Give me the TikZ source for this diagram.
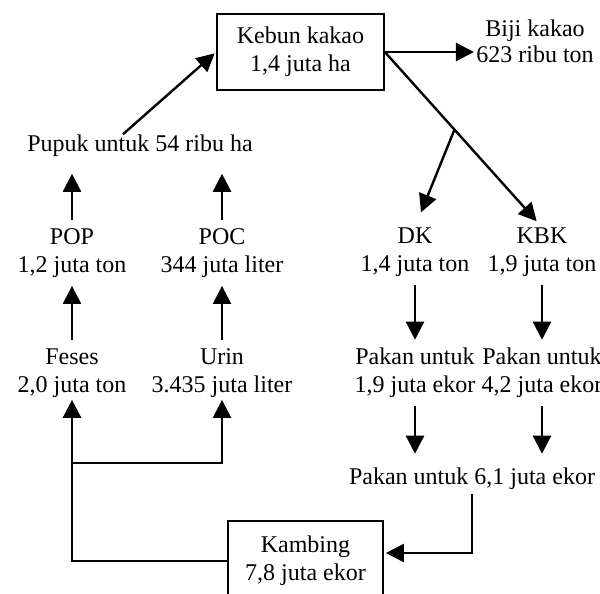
\documentclass[tikz,border=0pt]{standalone}
\usepackage{fontspec}
\setmainfont{Liberation Serif}
\usetikzlibrary{arrows.meta}
\tikzset{
  lbl/.style={align=center,inner sep=0pt,font=\fontsize{12}{14}\selectfont},
  kotak/.style={lbl,draw,line width=0.85pt,minimum width=83.5pt,minimum height=38pt},
  arr/.style={line width=1.2pt,shorten <=4pt,shorten >=4pt,-{Triangle[length=9pt,width=9pt]}},
  siku/.style={arr,shorten <=0pt,shorten >=1pt},
}
\begin{document}
\begin{tikzpicture}[x=0.5pt,y=-0.5pt]
  \useasboundingbox (0,0) rectangle (600,594);
  \node[kotak] (kebun) at (300.5,52) {Kebun kakao\\1,4 juta ha};
  \node[lbl,font=\fontsize{12}{12.8}\selectfont] (biji) at (535,41) {Biji kakao\\623 ribu ton};
  \node[lbl] (pupuk) at (140,145.5) {Pupuk untuk 54 ribu ha};
  \node[lbl] (pop) at (72,253) {POP\\1,2 juta ton};
  \node[lbl] (poc) at (222,253) {POC\\344 juta liter};
  \node[lbl] (feses) at (72,373) {Feses\\2,0 juta ton};
  \node[lbl] (urin) at (222,373) {Urin\\3.435 juta liter};
  \node[lbl] (dk) at (415,252) {DK\\1,4 juta ton};
  \node[lbl] (kbk) at (542,252) {KBK\\1,9 juta ton};
  \node[lbl] (pakandk) at (415,373) {Pakan untuk\\1,9 juta ekor};
  \node[lbl] (pakankbk) at (542,373) {Pakan untuk\\4,2 juta ekor};
  \node[lbl] (pakan) at (472,479) {Pakan untuk 6,1 juta ekor};
  \node[kotak,minimum width=77.5pt,minimum height=40pt] (kambing) at (305.5,561) {Kambing\\7,8 juta ekor};
  \coordinate (cabang) at (72,463);
  \draw[arr,shorten <=0pt,shorten >=1pt] (kebun.east) -- (kebun.east -| biji.west);
  \draw[arr,shorten <=0pt] (kebun.east) -- (kbk.north) coordinate[pos=0.443] (br);
  \draw[arr,shorten <=0pt,shorten >=8pt] (br) -- (dk.north);
  \draw[arr,shorten <=0pt,shorten >=1pt] ([xshift=-8.5pt]pupuk.north) -- (kebun.west);
  \draw[arr,shorten >=8.5pt] (pop) -- (pupuk.south -| pop);
  \draw[arr,shorten >=8.5pt] (poc) -- (pupuk.south -| poc);
  \draw[arr] (feses) -- (pop);
  \draw[arr] (urin) -- (poc);
  \draw[arr] (dk) -- (pakandk);
  \draw[arr] (kbk) -- (pakankbk);
  \draw[arr,shorten >=7pt] (pakandk) -- (pakan.north -| pakandk);
  \draw[arr,shorten >=7pt] (pakankbk) -- (pakan.north -| pakankbk);
  \draw[siku,shorten <=2pt] (pakan.south) |- ([yshift=4pt]kambing.east);
  \draw[siku] (kambing.west) -| (feses.south);
  \draw[siku] (cabang) -| (urin.south);
\end{tikzpicture}
\end{document}
